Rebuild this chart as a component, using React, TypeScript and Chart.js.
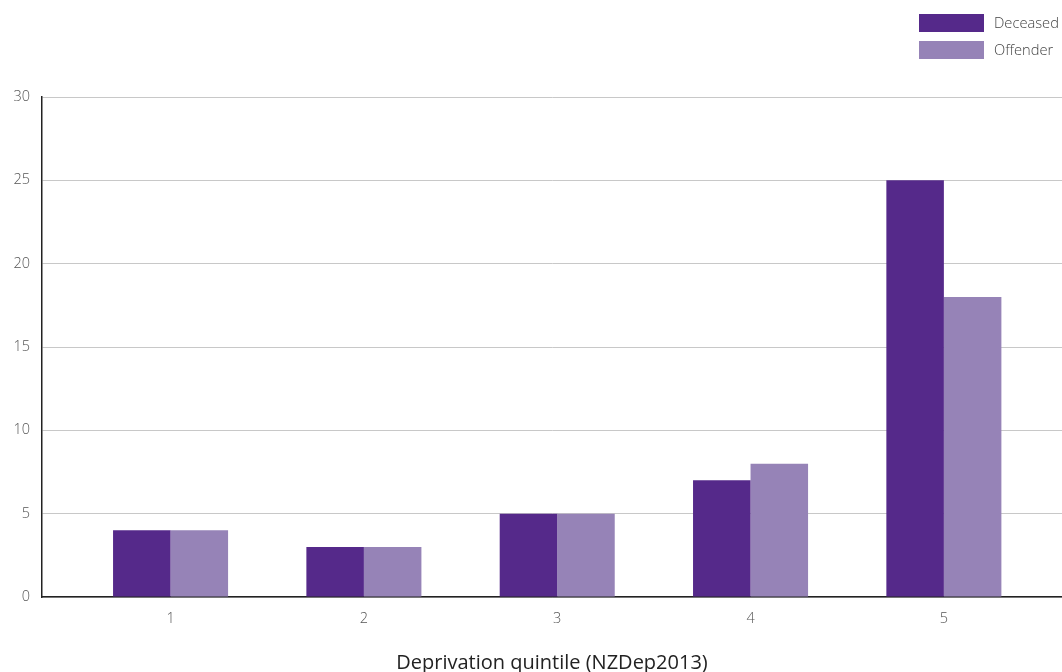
import React, { useEffect, useRef } from "react";
import { Chart, registerables } from "chart.js";

Chart.register(...registerables);

const categories = [1, 2, 3, 4, 5];
const deceased = [4, 3, 5, 7, 25];
const offender = [4, 3, 5, 8, 18];
const yTicks = [0, 5, 10, 15, 20, 25, 30];
const seriesLabels = ["Deceased", "Offender"];
const seriesColors = ["#55298A", "#9683B7"];
const xTitle = "Deprivation quintile (NZDep2013)";

const FONT = "'Open Sans', 'Lato', sans-serif";

const legendPlugin = {
  id: "stackedLegend",
  afterDraw(chart: any) {
    const ctx = chart.ctx;
    ctx.save();
    ctx.font = `300 14.7px ${FONT}`;
    ctx.textBaseline = "middle";
    ctx.textAlign = "left";
    chart.data.datasets.forEach((ds: any, i: number) => {
      const y = 14 + i * 27;
      ctx.fillStyle = ds.backgroundColor;
      ctx.fillRect(919, y, 65, 18);
      ctx.fillStyle = "#444";
      ctx.fillText(ds.label, 994, y + 9.5);
    });
    ctx.restore();
  },
};

export default function App() {
  const ref = useRef<HTMLCanvasElement>(null);
  useEffect(() => {
    document.body.style.margin = "0";
    const chart = new Chart(ref.current!, {
      type: "bar",
      data: {
        datasets: [deceased, offender].map((vals, k) => ({
          label: seriesLabels[k],
          data: categories.map((c, i) => ({ x: c, y: vals[i] })),
          backgroundColor: seriesColors[k],
          borderWidth: 0,
          categoryPercentage: 0.595,
          barPercentage: 1,
        })),
      },
      options: {
        animation: false,
        responsive: false,
        maintainAspectRatio: false,
        layout: { padding: { top: 97, left: 0, right: 0, bottom: 0 } },
        plugins: { legend: { display: false }, tooltip: { enabled: false } },
        scales: {
          x: {
            type: "linear",
            offset: false,
            min: 0.335,
            max: 5.611,
            afterBuildTicks: (s: any) => {
              s.ticks = categories.map((v) => ({ value: v }));
            },
            afterFit: (s: any) => {
              s.height = 75;
            },
            grid: { display: true, offset: false, color: "transparent", drawTicks: false },
            border: { display: true, color: "#222", width: 1.5 },
            ticks: {
              padding: 13,
              color: "#555",
              font: { family: FONT, size: 14.5, weight: "300" },
              callback: (v: any) => String(v),
            },
            title: {
              display: true,
              text: xTitle,
              color: "#222",
              padding: { top: 0, bottom: -3 },
              font: { family: FONT, size: 20, weight: "400" },
            },
          },
          y: {
            min: 0,
            max: 30,
            afterBuildTicks: (s: any) => {
              s.ticks = yTicks.map((v) => ({ value: v }));
            },
            afterFit: (s: any) => {
              s.width = 42;
            },
            grid: { color: "#c8c8c8", drawTicks: false, lineWidth: 1 },
            border: { display: true, color: "#222", width: 1.5 },
            ticks: {
              padding: 12,
              color: "#555",
              font: { family: FONT, size: 14.5, weight: "300" },
            },
          },
        },
      },
      plugins: [legendPlugin],
    } as any);
    return () => chart.destroy();
  }, []);
  return (
    <div style={{ position: "absolute", left: 0, top: 0, width: 1062, height: 672 }}>
      <canvas ref={ref} width={1062} height={672} style={{ width: 1062, height: 672 }} />
    </div>
  );
}
